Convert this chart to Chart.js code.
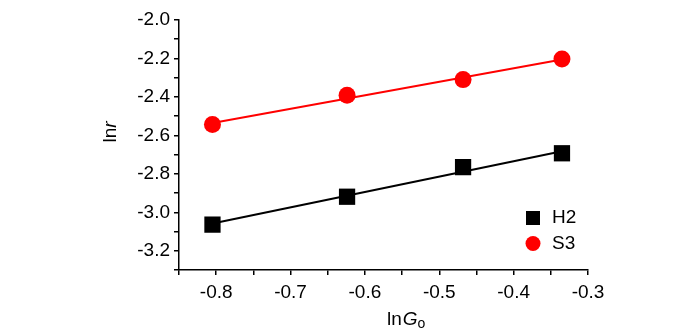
<!DOCTYPE html>
<html lang="en">
<head>
    <meta charset="UTF-8">
    <title>lnr vs lnGo</title>
    <script src="https://cdn.jsdelivr.net/npm/chart.js"></script>
    <style>
        body { margin: 0; background: #fff; }
        .chart-container { position: relative; width: 700px; height: 332px; }
    </style>
</head>
<body>
    <div class="chart-container">
        <canvas id="lnChart" width="700" height="332"></canvas>
    </div>
    <script>
        // values
        const lnG0 = [-0.805, -0.624, -0.468, -0.335];
        const h2Values = [-3.064, -2.919, -2.765, -2.693];
        const s3Values = [-2.543, -2.391, -2.310, -2.203];
        // fitted lines (end points)
        const fitX = [-0.805, -0.335];
        const h2Fit = [-3.058, -2.682];
        const s3Fit = [-2.536, -2.205];

        const FONT = "'Liberation Sans Narrow', 'Arial Narrow', 'Liberation Sans', Arial, sans-serif";

        const toPoints = (xs, ys) => xs.map((x, i) => ({ x: x, y: ys[i] }));

        // axis titles with italic letter and subscript, plus legend
        const extras = {
            id: 'extras',
            afterDraw(chart) {
                const ctx = chart.ctx;
                ctx.save();
                ctx.fillStyle = '#000';
                ctx.textBaseline = 'alphabetic';

                // y title "lnr"
                ctx.save();
                ctx.translate(116, 132);
                ctx.rotate(-Math.PI / 2);
                ctx.font = '19px ' + FONT;
                let w1 = ctx.measureText('ln').width;
                ctx.font = 'italic 19px ' + FONT;
                let w2 = ctx.measureText('r').width;
                let sx = -(w1 + w2) / 2;
                ctx.font = '19px ' + FONT;
                ctx.fillText('ln', sx, 0);
                ctx.font = 'italic 19px ' + FONT;
                ctx.fillText('r', sx + w1, 0);
                ctx.restore();

                // x title "lnGo"
                let x = 387, y = 325;
                ctx.font = '19px ' + FONT;
                ctx.fillText('ln', x, y);
                x += ctx.measureText('ln').width + 1;
                ctx.font = 'italic 19px ' + FONT;
                ctx.fillText('G', x, y);
                x += ctx.measureText('G').width;
                ctx.font = '14px ' + FONT;
                ctx.fillText('o', x, y + 3);

                // legend
                ctx.font = '19px ' + FONT;
                ctx.textBaseline = 'middle';
                ctx.fillStyle = '#000';
                ctx.fillRect(526, 211, 14, 14);
                ctx.fillText('H2', 552, 218);
                ctx.fillStyle = '#ff0000';
                ctx.beginPath();
                ctx.arc(533, 243.5, 7.5, 0, Math.PI * 2);
                ctx.fill();
                ctx.fillStyle = '#000';
                ctx.fillText('S3', 552, 244);
                ctx.restore();
            }
        };

        const ctx = document.getElementById('lnChart').getContext('2d');
        new Chart(ctx, {
            type: 'scatter',
            data: {
                datasets: [
                    {
                        label: 'H2',
                        data: toPoints(lnG0, h2Values),
                        pointStyle: 'rect',
                        pointRadius: 11.5,
                        backgroundColor: '#000',
                        borderColor: '#000',
                        borderWidth: 0,
                        order: 1
                    },
                    {
                        label: 'S3',
                        data: toPoints(lnG0, s3Values),
                        pointStyle: 'circle',
                        pointRadius: 8.5,
                        backgroundColor: '#ff0000',
                        borderColor: '#ff0000',
                        borderWidth: 0,
                        order: 1
                    },
                    {
                        label: 'H2 fit',
                        data: toPoints(fitX, h2Fit),
                        showLine: true,
                        pointRadius: 0,
                        borderColor: '#000',
                        borderWidth: 2,
                        order: 2
                    },
                    {
                        label: 'S3 fit',
                        data: toPoints(fitX, s3Fit),
                        showLine: true,
                        pointRadius: 0,
                        borderColor: '#ff0000',
                        borderWidth: 2,
                        order: 2
                    }
                ]
            },
            options: {
                responsive: false,
                animation: false,
                layout: { padding: { top: 20, right: 112, left: 0, bottom: 0 } },
                plugins: {
                    legend: { display: false },
                    tooltip: { enabled: false }
                },
                scales: {
                    x: {
                        type: 'linear',
                        min: -0.85,
                        max: -0.3,
                        afterFit: s => { s.height = 62; },
                        border: { display: true, color: '#000', width: 1.5 },
                        grid: { drawOnChartArea: false, drawTicks: true, tickLength: 5, color: '#000', lineWidth: 1.5 },
                        ticks: {
                            stepSize: 0.05,
                            autoSkip: false,
                            maxRotation: 0,
                            color: '#000',
                            padding: 6,
                            font: { family: FONT, size: 19 },
                            callback: v => Math.round(v * 100) % 10 === 0 ? v.toFixed(1) : ''
                        }
                    },
                    y: {
                        type: 'linear',
                        min: -3.3,
                        max: -2.0,
                        afterFit: s => { s.width = 179; },
                        border: { display: true, color: '#000', width: 1.5 },
                        grid: { drawOnChartArea: false, drawTicks: true, tickLength: 5, color: '#000', lineWidth: 1.5 },
                        ticks: {
                            stepSize: 0.1,
                            autoSkip: false,
                            color: '#000',
                            padding: 4,
                            font: { family: FONT, size: 19 },
                            callback: v => Math.round(v * 10) % 2 === 0 ? v.toFixed(1) : ''
                        }
                    }
                }
            },
            plugins: [extras]
        });
    </script>
</body>
</html>
